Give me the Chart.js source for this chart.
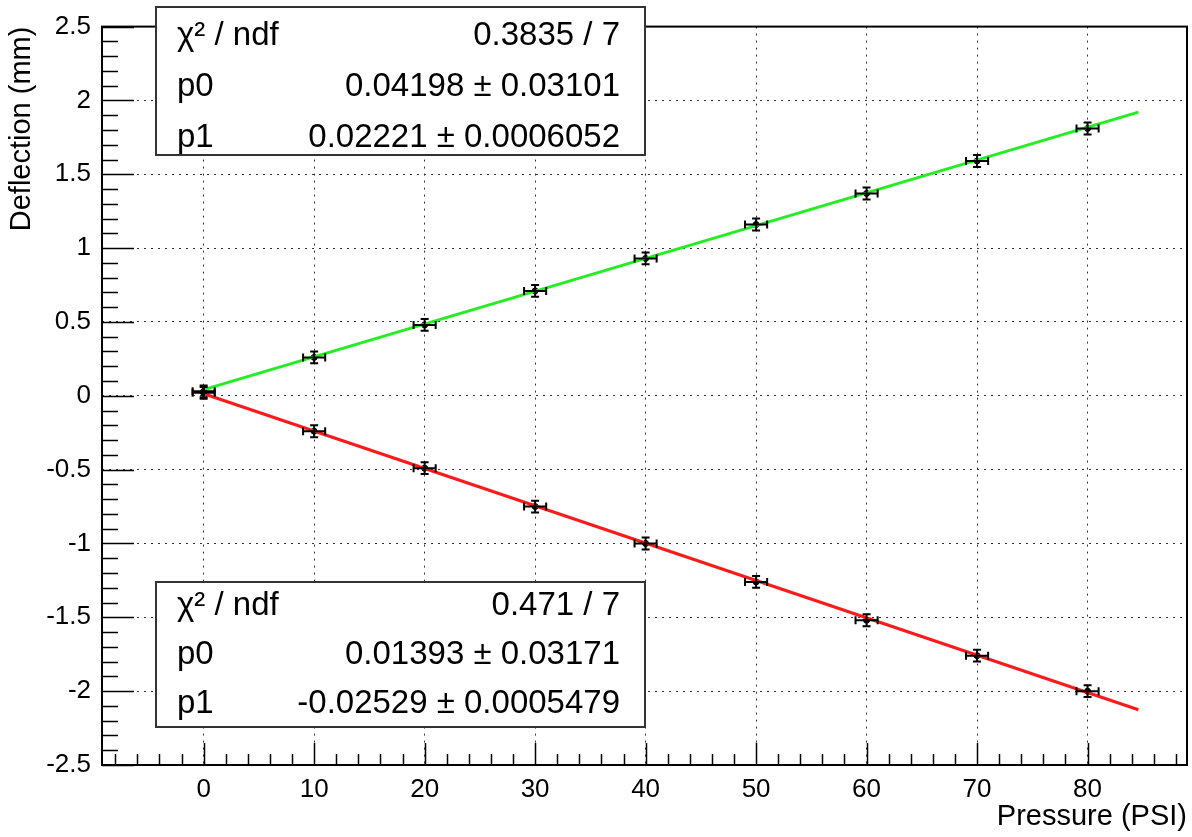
<!DOCTYPE html>
<html>
<head>
<meta charset="utf-8">
<script src="https://cdn.jsdelivr.net/npm/chart.js@4.4.1/dist/chart.umd.min.js"></script>
<style>
  html, body { margin: 0; padding: 0; background: #fff; }
  #wrap { position: relative; width: 1192px; height: 837px; }
</style>
</head>
<body>
<div id="wrap"><canvas id="deflection"></canvas></div>
<script>
// measured points (pressure in PSI, deflection in mm)
const pressure = [0, 10, 20, 30, 40, 50, 60, 70, 80];
const upDeflection = [0.03, 0.26, 0.48, 0.71, 0.93, 1.16, 1.37, 1.59, 1.81];
const downDeflection = [0.02, -0.24, -0.49, -0.75, -1.00, -1.26, -1.52, -1.76, -2.00];
const pressureErr = [1, 1, 1, 1, 1, 1, 1, 1, 1];
const upErr = [0.04, 0.04, 0.04, 0.04, 0.04, 0.04, 0.04, 0.04, 0.04];
const downErr = [0.04, 0.04, 0.04, 0.04, 0.04, 0.04, 0.04, 0.04, 0.04];

// fit line end points
const fitRange = [0, 84.6];
const upFit = [0.042, 1.921];
const downFit = [0.014, -2.126];

// axes
const xTicks = [0, 10, 20, 30, 40, 50, 60, 70, 80];
const xTickLabels = ["0", "10", "20", "30", "40", "50", "60", "70", "80"];
const yTicks = [-2.5, -2, -1.5, -1, -0.5, 0, 0.5, 1, 1.5, 2, 2.5];
const yTickLabels = ["-2.5", "-2", "-1.5", "-1", "-0.5", "0", "0.5", "1", "1.5", "2", "2.5"];

// stat boxes
const statLabels = ["\u03c7\u00b2 / ndf", "p0", "p1"];
const upStatValues = ["0.3835 / 7", "0.04198 \u00b1 0.03101", "0.02221 \u00b1 0.0006052"];
const downStatValues = ["0.471 / 7", "0.01393 \u00b1 0.03171", "-0.02529 \u00b1 0.0005479"];

const FONT = "'Liberation Sans', Arial, Helvetica, sans-serif";

const pts = (xs, ys) => xs.map((x, i) => ({ x: x, y: ys[i] }));

const rootDecor = {
  id: 'rootDecor',
  afterDatasetsDraw(chart) {
    const { ctx, scales: { x, y } } = chart;
    ctx.save();
    ctx.strokeStyle = '#000';
    ctx.lineWidth = 2;
    const bars = [[upDeflection, upErr], [downDeflection, downErr]];
    bars.forEach(([vals, errs]) => {
      vals.forEach((v, i) => {
        const px = x.getPixelForValue(pressure[i]);
        const py = y.getPixelForValue(v);
        const x0 = x.getPixelForValue(pressure[i] - pressureErr[i]);
        const x1 = x.getPixelForValue(pressure[i] + pressureErr[i]);
        const y0 = y.getPixelForValue(v - errs[i]);
        const y1 = y.getPixelForValue(v + errs[i]);
        ctx.beginPath();
        ctx.moveTo(x0, py); ctx.lineTo(x1, py);
        ctx.moveTo(x0, py - 4); ctx.lineTo(x0, py + 4);
        ctx.moveTo(x1, py - 4); ctx.lineTo(x1, py + 4);
        ctx.moveTo(px, y0); ctx.lineTo(px, y1);
        ctx.moveTo(px - 4, y0); ctx.lineTo(px + 4, y0);
        ctx.moveTo(px - 4, y1); ctx.lineTo(px + 4, y1);
        ctx.stroke();
      });
    });
    ctx.restore();
  },
  afterDraw(chart) {
    const { ctx, chartArea: a, scales: { x, y } } = chart;
    ctx.save();
    ctx.strokeStyle = '#000';
    ctx.lineWidth = 1.5;
    ctx.beginPath();
    // x ticks, inside the frame
    for (let v = -8; v <= 88; v += 2) {
      const px = Math.round(x.getPixelForValue(v)) + 0.5;
      const len = v % 10 === 0 ? 22 : 11;
      ctx.moveTo(px, a.bottom); ctx.lineTo(px, a.bottom - len);
    }
    // y ticks
    for (let k = -25; k <= 25; k++) {
      const py = Math.round(y.getPixelForValue(k / 10)) + 0.5;
      const len = k % 5 === 0 ? 32 : 16;
      ctx.moveTo(a.left, py); ctx.lineTo(a.left + len, py);
    }
    ctx.stroke();
    // frame
    ctx.lineWidth = 2;
    ctx.strokeRect(a.left, a.top, a.right - a.left, a.bottom - a.top);

    // stat boxes
    const boxes = [
      { x: 156, y: 7, w: 489, h: 148, rows: [45, 96, 147], vals: upStatValues },
      { x: 156, y: 582, w: 489, h: 145, rows: [615, 664, 713], vals: downStatValues }
    ];
    boxes.forEach(b => {
      ctx.fillStyle = '#fff';
      ctx.fillRect(b.x, b.y, b.w, b.h);
      ctx.strokeStyle = '#333';
      ctx.lineWidth = 2;
      ctx.strokeRect(b.x, b.y, b.w, b.h);
      ctx.fillStyle = '#000';
      ctx.font = '33px ' + FONT;
      ctx.textBaseline = 'alphabetic';
      b.rows.forEach((ry, i) => {
        ctx.textAlign = 'left';
        ctx.fillText(statLabels[i], b.x + 21, ry);
        ctx.textAlign = 'right';
        ctx.fillText(b.vals[i], b.x + b.w - 25, ry);
      });
    });
    ctx.restore();
  }
};

new Chart(document.getElementById('deflection'), {
  type: 'scatter',
  data: {
    datasets: [
      {
        data: pts(fitRange, upFit),
        showLine: true,
        borderColor: '#22ee22',
        borderWidth: 3,
        pointRadius: 0
      },
      {
        data: pts(fitRange, downFit),
        showLine: true,
        borderColor: '#ff1a1a',
        borderWidth: 3,
        pointRadius: 0
      },
      {
        data: pts(pressure, upDeflection),
        backgroundColor: '#000',
        borderColor: '#000',
        pointRadius: 3
      },
      {
        data: pts(pressure, downDeflection),
        backgroundColor: '#000',
        borderColor: '#000',
        pointRadius: 3
      }
    ]
  },
  options: {
    responsive: true,
    maintainAspectRatio: false,
    animation: false,
    layout: { padding: { top: 25, right: 2, left: 0, bottom: 0 } },
    plugins: { legend: { display: false }, tooltip: { enabled: false } },
    scales: {
      x: {
        type: 'linear',
        min: -9.2,
        max: 89,
        afterBuildTicks: s => { s.ticks = xTicks.map(v => ({ value: v })); },
        afterFit: s => { s.height = 72; },
        grid: { color: '#333', lineWidth: 1, drawTicks: false },
        border: { display: false, dash: [2, 5] },
        ticks: {
          padding: 9,
          color: '#000',
          font: { family: FONT, size: 26 },
          maxRotation: 0,
          callback: (v, i) => xTickLabels[i]
        },
        title: {
          display: true,
          text: 'Pressure (PSI)',
          align: 'end',
          color: '#000',
          font: { family: FONT, size: 29 },
          padding: { top: 0, bottom: 3 }
        }
      },
      y: {
        type: 'linear',
        min: -2.5,
        max: 2.5,
        afterBuildTicks: s => { s.ticks = yTicks.map(v => ({ value: v })); },
        afterFit: s => { s.width = 102; },
        grid: { color: '#333', lineWidth: 1, drawTicks: false },
        border: { display: false, dash: [2, 5] },
        ticks: {
          padding: 11,
          color: '#000',
          font: { family: FONT, size: 26 },
          callback: (v, i) => yTickLabels[i]
        },
        title: {
          display: true,
          text: 'Deflection (mm)',
          align: 'end',
          color: '#000',
          font: { family: FONT, size: 29 },
          padding: { top: 5, bottom: 0 }
        }
      }
    }
  },
  plugins: [rootDecor]
});
</script>
</body>
</html>
